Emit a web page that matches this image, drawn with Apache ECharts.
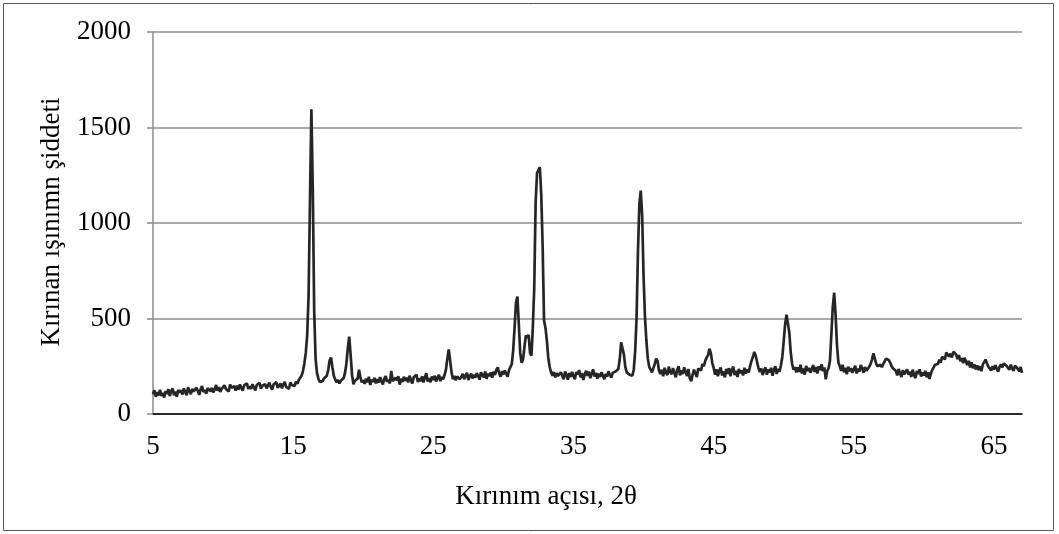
<!DOCTYPE html>
<html>
<head>
<meta charset="utf-8">
<script src="https://cdn.jsdelivr.net/npm/echarts@6/dist/echarts.min.js"></script>
<style>
html,body{margin:0;padding:0;background:#fff;}
#chart{width:1059px;height:534px;}
</style>
</head>
<body>
<div id="chart"></div>
<script>
// Step-scan grid of the diffractogram (2θ, degrees)
const scanStart = 5.0;
const scanStep = 0.1;

// Intensity readings, one row per degree (10 steps), 5.0° ... 67.0°
const intensity05to20 = [
  103,124,90,115,97,127,94,111,86,120,
  106,130,94,121,134,98,117,90,126,112,
  124,102,134,114,98,140,119,104,131,118,
  110,138,120,100,130,146,115,126,106,136,
  142,118,137,114,127,152,122,140,116,132,
  124,150,131,141,118,155,137,127,146,122,
  148,128,155,137,122,150,141,160,131,145,
  131,156,140,124,152,145,163,133,148,139,
  156,134,149,164,142,128,154,144,167,137,
  145,160,134,155,168,142,151,132,165,152,
  160,146,170,158,178,180,200,225,265,320,
  410,620,1120,1595,1180,540,290,215,185,168,
  178,172,186,182,200,230,280,296,245,200,
  180,166,178,160,174,182,188,215,265,345,
  405,310,205,156,174,166,185,232,190,166
];
const intensity20to35 = [
  177,158,186,166,195,152,180,168,190,160,
  183,164,193,172,155,185,198,168,180,160,
  225,172,162,190,176,198,154,186,168,195,
  174,190,165,200,178,160,192,182,205,168,
  186,172,198,165,192,214,170,188,166,196,
  178,200,170,190,205,172,194,182,204,232,
  290,338,280,218,182,200,176,196,206,182,
  196,210,182,201,216,178,198,212,186,206,
  190,214,200,180,218,205,192,222,184,212,
  198,218,190,222,205,232,244,212,196,224,
  206,228,212,195,230,240,262,335,455,585,
  615,470,320,268,285,350,412,398,415,320,
  305,455,660,1110,1262,1278,1292,1150,880,490,
  452,385,295,246,218,200,220,192,214,200,
  190,218,200,182,222,205,180,214,194,220
];
const intensity35to50 = [
  198,182,220,207,230,192,214,178,206,226,
  200,222,188,210,234,196,216,185,212,194,
  218,200,182,210,195,224,206,190,216,226,
  222,232,236,285,375,385,310,245,218,208,
  206,212,200,232,328,500,850,1100,1170,1040,
  720,510,385,292,248,232,218,240,262,290,
  278,228,210,232,198,242,216,204,248,220,
  208,240,216,192,232,250,202,228,210,244,
  222,198,236,186,172,206,232,212,194,238,
  240,228,262,250,278,295,308,342,318,268,
  242,206,234,198,226,244,202,224,192,236,
  210,240,198,230,248,204,226,194,236,214,
  228,202,242,212,234,218,250,278,298,325,
  305,272,240,220,238,204,230,244,206,234,
  218,242,200,232,250,210,236,222,254,300
];
const intensity50to67 = [
  382,470,520,512,425,322,262,232,245,218,
  244,220,258,212,238,206,252,226,242,216,
  236,256,220,246,212,250,230,260,224,244,
  182,225,240,280,420,560,635,520,360,270,
  250,226,258,218,242,208,248,224,240,216,
  234,252,212,238,222,256,240,216,246,226,
  236,248,262,285,318,290,262,250,240,258,
  245,262,275,290,300,282,268,250,238,228,
  226,202,236,212,194,230,208,200,234,206,
  222,194,232,204,188,226,210,234,196,218,
  202,226,192,218,184,212,232,244,258,250,
  262,284,268,300,302,286,322,328,300,316,
  296,326,322,312,288,308,276,292,266,294,
  286,256,278,244,270,240,260,234,254,230,
  250,224,258,264,285,266,248,240,228,250,
  232,256,238,222,248,260,244,264,272,252,
  252,232,258,238,226,254,264,236,224,246,
  215
];

const xTickLabels = [5, 15, 25, 35, 45, 55, 65];
const yTickLabels = [0, 500, 1000, 1500, 2000];
const xTitle = 'Kırınım açısı, 2θ';
const yTitle = 'Kırınan ışınımn şiddeti';

const intensities = [].concat(intensity05to20, intensity20to35, intensity35to50, intensity50to67);
const points = intensities.map((v, i) => [Math.round((scanStart + i * scanStep) * 10) / 10, v]);

const font = 'Liberation Serif, Times New Roman, serif';
const chart = echarts.init(document.getElementById('chart'), null, {renderer: 'canvas'});
chart.setOption({
  animation: false,
  backgroundColor: '#ffffff',
  grid: {left: 153, right: 37, top: 32, bottom: 120, containLabel: false},
  xAxis: {
    type: 'value',
    min: 5,
    max: 67,
    axisLine: {show: true, onZero: false, lineStyle: {color: '#000', width: 1.5}},
    axisTick: {show: false},
    splitLine: {show: false},
    axisLabel: {
      customValues: xTickLabels,
      formatter: v => String(v),
      margin: 19,
      fontFamily: font,
      fontSize: 27,
      color: '#000'
    }
  },
  yAxis: {
    type: 'value',
    min: 0,
    max: 2000,
    interval: 500,
    axisLine: {show: true, lineStyle: {color: '#8c8c8c', width: 1.5}},
    axisTick: {show: true, inside: false, length: 6, lineStyle: {color: '#8c8c8c', width: 1.5}},
    splitLine: {show: true, lineStyle: {color: '#8c8c8c', width: 1.5}},
    axisLabel: {
      customValues: yTickLabels,
      formatter: v => String(v),
      margin: 22,
      fontFamily: font,
      fontSize: 27,
      color: '#000'
    }
  },
  graphic: [
    {type: 'rect', shape: {x: 3.5, y: 3.5, width: 1050, height: 527}, style: {fill: 'none', stroke: '#595959', lineWidth: 1}, silent: true},
    {type: 'text', x: 546, y: 497, style: {text: xTitle, font: '27px ' + font, fill: '#000', align: 'center', verticalAlign: 'middle'}},
    {type: 'text', x: 52, y: 222, rotation: Math.PI / 2, style: {text: yTitle, font: '27px ' + font, fill: '#000', align: 'center', verticalAlign: 'middle'}}
  ],
  series: [{
    type: 'line',
    data: points,
    showSymbol: false,
    symbol: 'none',
    sampling: null,
    lineStyle: {color: '#262626', width: 2.7},
    z: 3
  }]
});
</script>
</body>
</html>
